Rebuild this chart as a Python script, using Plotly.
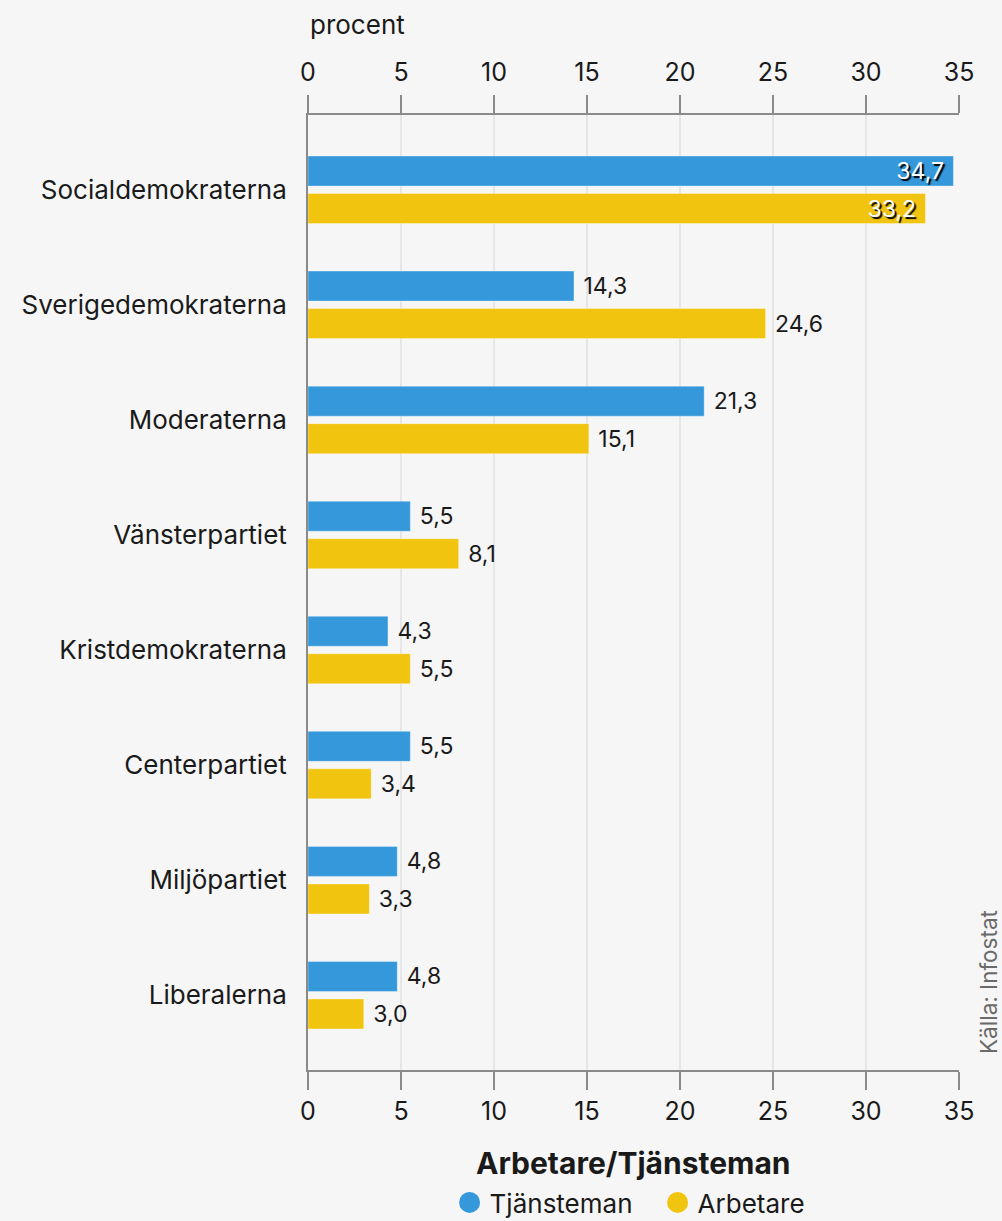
import plotly.graph_objects as go

categories = ["Socialdemokraterna", "Sverigedemokraterna", "Moderaterna", "Vänsterpartiet",
              "Kristdemokraterna", "Centerpartiet", "Miljöpartiet", "Liberalerna"]
tjansteman = [34.7, 14.3, 21.3, 5.5, 4.3, 5.5, 4.8, 4.8]
arbetare = [33.2, 24.6, 15.1, 8.1, 5.5, 3.4, 3.3, 3.0]
tick_vals = [0, 5, 10, 15, 20, 25, 30, 35]

BLUE = "#3498db"
YELLOW = "#f1c40f"
FONT = "Inter"
TXT = "#1a1a1a"
AXC = "#8a8a8a"
NB = "\u00a0"


def positions(vals):
    return ["inside" if v > 30 else "outside" for v in vals]


def templates(vals):
    return ["%{x:.1f}" + NB if v > 30 else NB + "%{x:.1f}" for v in vals]


fig = go.Figure()
for name, vals, col in [("Tjänsteman", tjansteman, BLUE), ("Arbetare", arbetare, YELLOW)]:
    fig.add_trace(go.Bar(
        x=vals, y=categories, orientation="h", name=name,
        marker=dict(color=col, line=dict(color="rgba(255,255,255,0.35)", width=1)),
        texttemplate=templates(vals), textposition=positions(vals),
        insidetextanchor="end", constraintext="none",
        insidetextfont=dict(family=FONT, size=23, color="white", shadow="2px 2px 1px #000"),
        outsidetextfont=dict(family=FONT, size=23, color=TXT),
        cliponaxis=False, showlegend=False, hoverinfo="skip",
    ))

for name, col in [("Tjänsteman", BLUE), ("Arbetare", YELLOW)]:
    fig.add_trace(go.Scatter(
        x=[None], y=[None], mode="markers", name=name,
        marker=dict(symbol="circle", size=16, color=col, line=dict(color=col, width=6)),
    ))

axis_common = dict(
    range=[0, 35], tickvals=tick_vals, ticks="outside", ticklen=18, tickwidth=2,
    tickcolor=AXC, showline=True, linecolor=AXC, linewidth=2,
    showgrid=True, gridcolor="#e6e6e6", gridwidth=1.5, zeroline=False,
    tickfont=dict(family=FONT, size=25, color=TXT), fixedrange=True,
)

fig.update_layout(
    width=1002, height=1221,
    paper_bgcolor="#f6f6f6", plot_bgcolor="#f6f6f6",
    margin=dict(l=308, r=43, t=115, b=151),
    separators=", ",
    barmode="group", bargap=0.348, bargroupgap=0.2,
    font=dict(family=FONT, color=TXT),
    xaxis=dict(side="bottom", ticklabelstandoff=0, **axis_common),
    xaxis2=dict(side="top", overlaying="x", anchor="y", matches="x", ticklabelstandoff=4, **axis_common),
    yaxis=dict(
        type="category", categoryorder="array", categoryarray=categories,
        range=[7.65, -0.65], showline=True, linecolor=AXC, linewidth=2,
        ticks="", showgrid=False, zeroline=False, ticklabelstandoff=14,
        tickfont=dict(family=FONT, size=26, color=TXT), fixedrange=True,
    ),
    legend=dict(
        orientation="h", x=0.537, xanchor="center",
        yref="container", y=(1221 - 1179) / 1221, yanchor="top",
        font=dict(family=FONT, size=26, color=TXT),
        itemsizing="trace", bgcolor="rgba(0,0,0,0)",
        entrywidth=163, entrywidthmode="pixels",
    ),
    annotations=[
        dict(text="procent", xref="paper", yref="paper", x=0, y=1, yshift=91,
             xanchor="left", yanchor="middle", showarrow=False,
             font=dict(family=FONT, size=26, color=TXT)),
        dict(text="<b>Arbetare/Tjänsteman</b>", xref="paper", yref="paper", x=0.5, y=0, yshift=-93,
             xanchor="center", yanchor="middle", showarrow=False,
             font=dict(family=FONT, size=30, color=TXT)),
        dict(text="Källa: Infostat", xref="paper", yref="paper", x=1, y=0, xshift=29, yshift=88,
             xanchor="center", yanchor="middle", textangle=-90, showarrow=False,
             font=dict(family=FONT, size=22.5, color="#6a6a6a")),
    ],
)

# dummy trace to activate the top axis
fig.add_trace(go.Scatter(x=[None], y=[None], xaxis="x2", yaxis="y", showlegend=False, hoverinfo="skip"))

fig.write_html("out.html", config={"displayModeBar": False},
               post_script="document.body.style.margin='0';")
